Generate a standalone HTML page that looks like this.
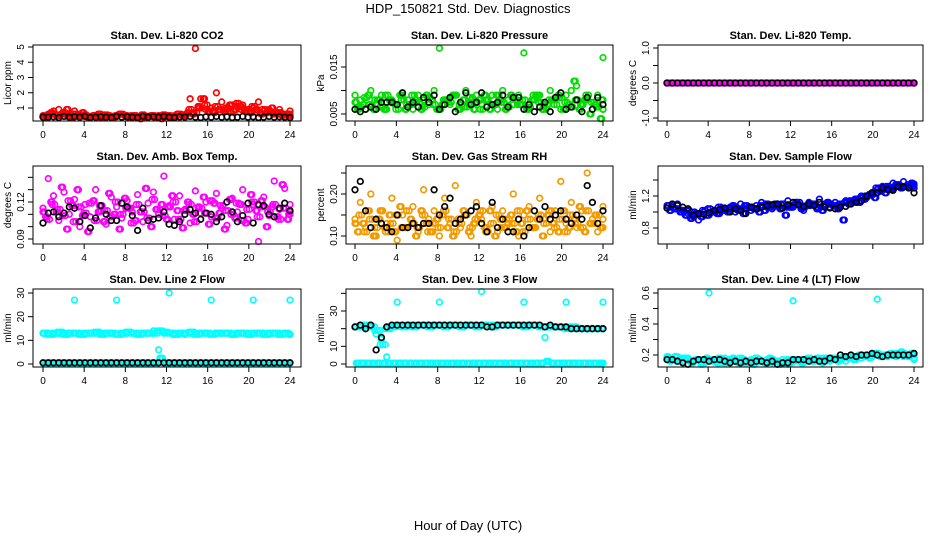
<!DOCTYPE html>
<html><head><meta charset="utf-8"><style>
body{margin:0;background:#fff}
svg{display:block;font-family:"Liberation Sans",Arial,sans-serif}
</style></head><body>
<svg id="c" width="936" height="540" viewBox="0 0 936 540">
<text x="468" y="13" text-anchor="middle" font-size="13">HDP_150821  Std. Dev. Diagnostics</text>
<text x="468" y="530" text-anchor="middle" font-size="13">Hour of Day (UTC)</text>
</svg>
<script>
// ---- data (values by half-hour index across 0–24 h) ----
const co2A=[0.5,0.6,0.8,0.9,0.6,0.5,0.8,0.6,0.5,0.4,0.5,0.6,0.5,0.45,0.5,0.4,0.5,0.45,0.4,0.5,0.4,0.45,0.5,0.4,0.45,0.5,0.4,0.5,1.6,4.9,1.6,0.9,1.0,2.0,1.4,0.9,1.2,1.1,1.2,0.9,1.0,1.4,0.8,0.9,0.7,0.9,0.6,0.8];
const co2B=[0.4,0.7,0.5,0.6,0.9,0.4,0.5,0.7,0.4,0.5,0.6,0.4,0.5,0.4,0.6,0.5,0.4,0.5,0.3,0.4,0.5,0.4,0.3,0.5,0.4,0.6,0.5,0.7,0.6,1.1,1.6,0.8,0.7,0.9,0.8,1.2,0.9,1.1,0.8,0.7,0.9,0.6,0.7,1.0,0.6,0.5,0.6,0.5];
const co2C=[0.45,0.55,0.6,0.5,0.7,0.45,0.6,0.5,0.55,0.45,0.5,0.4,0.55,0.45,0.5,0.6,0.45,0.5,0.4,0.55,0.45,0.5,0.45,0.55,0.5,0.45,0.6,0.55,0.9,0.7,1.0,1.2,0.8,1.1,0.9,1.0,0.8,1.3,0.9,0.8,1.1,0.7,0.9,0.8,0.6,0.7,0.55,0.6];
const co2K=[0.4,0.4,0.42,0.38,0.45,0.4,0.42,0.4,0.45,0.38,0.4,0.42,0.4,0.38,0.45,0.4,0.42,0.4,0.38,0.45,0.4,0.42,0.4,0.45,0.4,0.38,0.42,0.4,0.45,0.4,0.38,0.42,0.4,0.45,0.4,0.42,0.38,0.4,0.45,0.4,0.42,0.38,0.4,0.45,0.4,0.42,0.4,0.38];
const prA=[0.009,0.008,0.006,0.010,0.007,0.009,0.006,0.008,0.007,0.009,0.008,0.006,0.009,0.008,0.007,0.010,0.019,0.008,0.007,0.009,0.006,0.010,0.008,0.009,0.007,0.008,0.009,0.006,0.010,0.008,0.007,0.009,0.018,0.006,0.008,0.009,0.007,0.010,0.008,0.006,0.009,0.010,0.011,0.007,0.008,0.006,0.009,0.017];
const prB=[0.006,0.007,0.009,0.006,0.008,0.006,0.008,0.007,0.009,0.006,0.007,0.008,0.006,0.009,0.008,0.006,0.007,0.008,0.009,0.006,0.008,0.007,0.006,0.008,0.009,0.006,0.007,0.008,0.006,0.009,0.008,0.007,0.006,0.008,0.009,0.006,0.007,0.008,0.009,0.006,0.007,0.012,0.006,0.008,0.005,0.007,0.004,0.006];
const prC=[0.0075,0.0065,0.0085,0.0070,0.0080,0.0065,0.0090,0.0075,0.0060,0.0080,0.0070,0.0090,0.0075,0.0065,0.0085,0.0070,0.0060,0.0080,0.0075,0.0090,0.0070,0.0065,0.0085,0.0075,0.0060,0.0080,0.0070,0.0090,0.0075,0.0065,0.0085,0.0070,0.0080,0.0065,0.0090,0.0075,0.0060,0.0080,0.0070,0.0085,0.0075,0.0065,0.0080,0.0070,0.0090,0.0075,0.0065,0.0080];
const prK=[0.006,0.0055,0.006,0.0065,0.006,0.0075,0.0075,0.0075,0.007,0.0095,0.0065,0.0075,0.0065,0.0085,0.0075,0.009,0.006,0.007,0.0085,0.0055,0.0075,0.0095,0.007,0.0075,0.0095,0.0065,0.007,0.0075,0.009,0.0065,0.0085,0.0085,0.006,0.007,0.0055,0.0065,0.0075,0.0055,0.0085,0.0095,0.006,0.0065,0.008,0.0055,0.0085,0.006,0.0085,0.007];
const tpA=[0,0,0,0,0,0,0,0,0,0,0,0,0,0,0,0,0,0,0,0,0,0,0,0,0,0,0,0,0,0,0,0,0,0,0,0,0,0,0,0,0,0,0,0,0,0,0,0];
const tpK=[0,0,0,0,0,0,0,0,0,0,0,0,0,0,0,0,0,0,0,0,0,0,0,0,0,0,0,0,0,0,0,0,0,0,0,0,0,0,0,0,0,0,0,0,0,0,0,0];
const abA=[0.115,0.139,0.125,0.105,0.128,0.110,0.122,0.100,0.118,0.108,0.130,0.113,0.102,0.124,0.116,0.107,0.121,0.112,0.126,0.104,0.119,0.128,0.110,0.141,0.117,0.106,0.125,0.114,0.103,0.129,0.111,0.120,0.108,0.127,0.115,0.101,0.123,0.112,0.130,0.106,0.118,0.088,0.124,0.109,0.137,0.114,0.131,0.118];
const abB=[0.108,0.120,0.112,0.132,0.098,0.117,0.130,0.109,0.096,0.121,0.112,0.104,0.127,0.110,0.098,0.123,0.115,0.105,0.112,0.131,0.100,0.114,0.118,0.106,0.125,0.113,0.099,0.120,0.110,0.116,0.124,0.102,0.119,0.111,0.098,0.122,0.107,0.118,0.103,0.126,0.113,0.121,0.100,0.116,0.108,0.134,0.106,0.112];
const abC=[0.112,0.106,0.118,0.114,0.109,0.121,0.104,0.116,0.111,0.119,0.105,0.117,0.113,0.108,0.120,0.110,0.115,0.103,0.118,0.112,0.107,0.122,0.114,0.109,0.116,0.120,0.106,0.113,0.118,0.104,0.115,0.111,0.121,0.107,0.117,0.113,0.110,0.119,0.105,0.114,0.120,0.108,0.116,0.112,0.118,0.106,0.115,0.110];
const abK=[0.103,0.111,0.112,0.108,0.111,0.116,0.115,0.104,0.109,0.099,0.107,0.117,0.110,0.105,0.105,0.119,0.116,0.109,0.097,0.115,0.105,0.106,0.107,0.112,0.102,0.101,0.104,0.110,0.114,0.111,0.106,0.111,0.110,0.104,0.108,0.120,0.112,0.104,0.109,0.119,0.103,0.118,0.117,0.110,0.108,0.115,0.119,0.113];
const rhA=[0.14,0.18,0.12,0.20,0.10,0.16,0.13,0.19,0.09,0.15,0.12,0.17,0.11,0.21,0.14,0.16,0.10,0.19,0.13,0.22,0.12,0.15,0.10,0.18,0.14,0.12,0.17,0.11,0.16,0.13,0.20,0.10,0.15,0.17,0.12,0.19,0.14,0.11,0.16,0.23,0.13,0.18,0.12,0.16,0.25,0.14,0.11,0.17];
const rhB=[0.11,0.13,0.16,0.10,0.14,0.12,0.15,0.11,0.17,0.12,0.14,0.10,0.16,0.13,0.11,0.14,0.15,0.12,0.10,0.14,0.16,0.11,0.13,0.15,0.12,0.16,0.10,0.14,0.12,0.15,0.11,0.13,0.16,0.12,0.14,0.10,0.15,0.13,0.11,0.16,0.12,0.14,0.17,0.11,0.13,0.15,0.12,0.14];
const rhC=[0.13,0.15,0.11,0.14,0.12,0.16,0.11,0.13,0.15,0.12,0.16,0.13,0.12,0.15,0.11,0.13,0.12,0.16,0.14,0.11,0.13,0.15,0.12,0.14,0.16,0.11,0.13,0.15,0.12,0.14,0.13,0.16,0.11,0.14,0.12,0.15,0.13,0.16,0.12,0.14,0.11,0.15,0.13,0.12,0.16,0.13,0.15,0.12];
const rhK=[0.21,0.23,0.16,0.12,0.14,0.13,0.12,0.11,0.15,0.12,0.12,0.13,0.12,0.13,0.13,0.21,0.15,0.17,0.19,0.13,0.14,0.15,0.16,0.17,0.13,0.11,0.18,0.12,0.14,0.11,0.11,0.14,0.10,0.12,0.16,0.14,0.17,0.14,0.15,0.16,0.14,0.13,0.15,0.14,0.22,0.18,0.13,0.16];
const sfA=[1.05,1.08,1.10,1.02,0.98,0.94,0.90,1.00,0.96,1.02,0.98,1.04,1.06,1.00,1.10,1.04,1.02,1.08,1.12,1.06,1.04,1.10,1.08,1.14,1.06,1.10,1.02,1.12,1.08,1.16,1.10,1.06,1.12,1.08,1.14,1.10,1.16,1.20,1.18,1.24,1.28,1.32,1.30,1.36,1.34,1.38,1.32,1.35];
const sfB=[1.02,1.04,1.00,0.96,0.92,0.98,0.94,0.96,1.00,0.98,1.04,1.00,1.08,1.02,0.98,1.06,1.04,1.00,1.02,1.08,1.10,1.04,0.96,1.06,1.12,1.04,1.08,1.10,1.04,1.02,1.12,1.08,1.04,0.90,1.10,1.14,1.12,1.16,1.22,1.18,1.26,1.24,1.28,1.34,1.30,1.32,1.36,1.30];
const sfC=[1.08,1.06,1.04,1.00,1.02,1.00,0.98,1.02,1.04,1.00,1.06,1.02,1.04,1.06,1.04,1.08,1.06,1.04,1.08,1.10,1.06,1.08,1.10,1.06,1.08,1.12,1.06,1.08,1.10,1.06,1.08,1.10,1.08,1.10,1.12,1.14,1.16,1.18,1.20,1.22,1.30,1.28,1.32,1.30,1.34,1.32,1.34,1.33];
const sfK=[1.05,1.10,1.08,1.06,1.04,0.96,0.98,0.97,0.99,1.02,1.03,1.05,1.00,1.04,1.02,0.98,1.06,1.04,1.06,1.08,1.09,1.10,1.05,1.09,1.12,1.09,1.07,1.10,1.08,1.12,1.06,1.05,1.04,1.06,1.07,1.10,1.12,1.14,1.20,1.24,1.24,1.30,1.28,1.27,1.32,1.31,1.30,1.24];
const l2A=[13,13,12.5,13,13,13,27,13,12.5,13,13,13,13,13,27,12.5,13,13,13,13,13,14,6,13,30,13,13,12.5,13,13,13,13,27,13,13,13,12.5,13,13,13,27,13,13,12.5,13,13,13,27];
const l2C=[13,12.5,13,13.5,12.5,13,13,12.5,13,13,13.5,12.5,13,13,12.5,13,13.5,13,12.5,13,13,13,14,13.5,13,12.5,13,13,13.5,12.5,13,13,12.5,13,13,13,12.5,13,13,12.5,13,13,12.5,13,13,12.5,13,12.5];
const l2B=[0.5,0.5,0.5,0.5,0.5,0.5,0.5,0.5,0.5,0.5,0.5,0.5,0.5,0.5,0.5,0.5,0.5,0.5,0.5,0.5,0.5,0.5,2.5,0.5,0.5,0.5,0.5,0.5,0.5,0.5,0.5,0.5,0.5,0.5,0.5,0.5,0.5,0.5,0.5,0.5,0.5,0.5,0.5,0.5,0.5,0.5,0.5,0.5];
const l2K=[0.5,0.5,0.5,0.5,0.5,0.5,0.5,0.5,0.5,0.5,0.5,0.5,0.5,0.5,0.5,0.5,0.5,0.5,0.5,0.5,0.5,0.5,0.5,0.5,0.5,0.5,0.5,0.5,0.5,0.5,0.5,0.5,0.5,0.5,0.5,0.5,0.5,0.5,0.5,0.5,0.5,0.5,0.5,0.5,0.5,0.5,0.5,0.5];
const l3A=[21,22,20,22,17,14,4,22,35,22,22,22,22,22,22,22,35,22,22,22,22,22,22,22,41,22,22,22,22,22,22,22,35,22,22,22,15,21,21,21,35,21,21,20,20,20,20,35];
const l3C=[21,21,22,21,19,11,20,21,22,21,22,21,22,22,21,22,22,21,22,22,21,22,22,21,22,22,21,22,22,22,22,22,21,22,22,21,21,21,21,21,20,21,20,20,20,20,20,20];
const l3B=[0.5,0.5,0.5,0.5,0.5,0.5,0.5,0.5,0.5,0.5,0.5,0.5,0.5,0.5,0.5,0.5,0.5,0.5,0.5,0.5,0.5,0.5,0.5,0.5,0.5,0.5,0.5,0.5,0.5,0.5,0.5,0.5,0.5,0.5,0.5,0.5,1.5,0.5,0.5,0.5,0.5,0.5,0.5,0.5,0.5,0.5,0.5,0.5];
const l3K=[21,22,20,22,8,15,21,22,22,22,22,22,22,22,22,22,22,22,22,22,22,22,22,22,22,21,21,22,22,22,22,22,22,22,22,22,21,22,21,21,21,20,20,20,20,20,20,20];
const l4A=[0.18,0.17,0.19,0.16,0.18,0.15,0.17,0.16,0.60,0.17,0.15,0.18,0.16,0.17,0.15,0.16,0.17,0.15,0.16,0.17,0.15,0.16,0.17,0.14,0.55,0.16,0.15,0.17,0.16,0.18,0.17,0.16,0.17,0.18,0.16,0.19,0.17,0.18,0.20,0.19,0.56,0.20,0.19,0.21,0.20,0.19,0.20,0.17];
const l4B=[0.16,0.19,0.17,0.18,0.15,0.17,0.14,0.18,0.16,0.15,0.17,0.16,0.18,0.15,0.17,0.16,0.14,0.17,0.15,0.18,0.16,0.14,0.16,0.15,0.17,0.15,0.17,0.16,0.18,0.15,0.17,0.18,0.16,0.19,0.18,0.17,0.20,0.19,0.18,0.21,0.19,0.20,0.21,0.19,0.22,0.20,0.21,0.18];
const l4C=[0.19,0.17,0.16,0.18,0.17,0.16,0.17,0.15,0.17,0.16,0.18,0.15,0.17,0.16,0.18,0.15,0.16,0.18,0.16,0.15,0.17,0.16,0.15,0.17,0.16,0.17,0.16,0.18,0.17,0.16,0.18,0.17,0.18,0.17,0.19,0.18,0.19,0.20,0.19,0.20,0.21,0.19,0.20,0.20,0.21,0.21,0.19,0.20];
const l4K=[0.17,0.17,0.16,0.15,0.14,0.16,0.17,0.17,0.16,0.17,0.17,0.16,0.15,0.16,0.15,0.16,0.15,0.16,0.16,0.15,0.16,0.14,0.15,0.15,0.17,0.17,0.17,0.16,0.17,0.16,0.16,0.18,0.17,0.20,0.19,0.20,0.19,0.20,0.20,0.21,0.20,0.19,0.20,0.20,0.20,0.20,0.20,0.21];
const xTicks=[0,4,8,12,16,20,24];

const NS='http://www.w3.org/2000/svg';
const svg=document.getElementById('c');
function mk(tag,attrs,parent){const e=document.createElementNS(NS,tag);for(const k in attrs)e.setAttribute(k,attrs[k]);(parent||svg).appendChild(e);return e;}

const cols=[{l:33,r:301,x0:43,x1:290},{l:346,r:613,x0:355,x1:603},{l:658,r:923,x0:667,x1:914}];
const rows=[{t:45,b:121},{t:166,b:244},{t:289,b:367}];

function ser(a,b,c,k,col){return [[a,col,0],[b,col,0.25],[c,col,0.125],[b,col,0.375],[c,col,-0.125],[k,'#000',0]];}

const panels=[
 {c:0,r:0,name:'co2',title:'Stan. Dev. Li-820 CO2',ylab:'Licor ppm',v1:1,p1:108,v2:5,p2:47,ticks:[1,2,3,4,5],labs:['1','2','3','4','5'],xl:true,series:ser(co2A,co2B,co2C,co2K,'#ff0000')},
 {c:1,r:0,name:'pressure',title:'Stan. Dev. Li-820 Pressure',ylab:'kPa',v1:0.005,p1:114,v2:0.015,p2:67,ticks:[0.005,0.010,0.015],labs:['0.005','','0.015'],xl:true,series:ser(prA,prB,prC,prK,'#00dd00')},
 {c:2,r:0,name:'li820-temp',title:'Stan. Dev. Li-820 Temp.',ylab:'degrees C',v1:0,p1:83,v2:1,p2:48,ticks:[-1,-0.5,0,0.5,1],labs:['-1.0','','0.0','','1.0'],xl:true,series:ser(tpA,tpA,tpA,tpK,'#ff00ff')},
 {c:0,r:1,name:'amb-box-temp',title:'Stan. Dev. Amb. Box Temp.',ylab:'degrees C',v1:0.09,p1:239,v2:0.12,p2:202,ticks:[0.09,0.10,0.11,0.12,0.13,0.14],labs:['0.09','','','0.12','',''],xl:true,series:ser(abA,abB,abC,abK,'#ff00ff')},
 {c:1,r:1,name:'gas-stream-rh',title:'Stan. Dev. Gas Stream RH',ylab:'percent',v1:0.10,p1:236,v2:0.20,p2:194,ticks:[0.10,0.15,0.20,0.25],labs:['0.10','','0.20',''],xl:true,series:ser(rhA,rhB,rhC,rhK,'#f29a00')},
 {c:2,r:1,name:'sample-flow',title:'Stan. Dev. Sample Flow',ylab:'ml/min',v1:0.8,p1:228,v2:1.2,p2:196,ticks:[0.8,1.0,1.2,1.4],labs:['0.8','','1.2',''],xl:false,series:ser(sfA,sfB,sfC,sfK,'#0000ff')},
 {c:0,r:2,name:'line2-flow',title:'Stan. Dev. Line 2 Flow',ylab:'ml/min',v1:0,p1:364,v2:30,p2:293,ticks:[0,10,20,30],labs:['0','10','20','30'],xl:true,series:ser(l2A,l2B,l2C,l2K,'#00ffff').concat([[l2C,'#00ffff',0.375],[l2B,'#00ffff',0.125]]).sort((a,b)=>a[1]==='#000'?1:b[1]==='#000'?-1:0)},
 {c:1,r:2,name:'line3-flow',title:'Stan. Dev. Line 3 Flow',ylab:'ml/min',v1:0,p1:364,v2:30,p2:311,ticks:[0,10,20,30,40],labs:['0','10','','30',''],xl:true,series:ser(l3A,l3B,l3C,l3K,'#00ffff').concat([[l3C,'#00ffff',0.375],[l3B,'#00ffff',0.125]]).sort((a,b)=>a[1]==='#000'?1:b[1]==='#000'?-1:0)},
 {c:2,r:2,name:'line4-flow',title:'Stan. Dev. Line 4 (LT) Flow',ylab:'ml/min',v1:0.2,p1:355,v2:0.6,p2:293,ticks:[0.2,0.3,0.4,0.5,0.6],labs:['0.2','','0.4','','0.6'],xl:true,series:ser(l4A,l4B,l4C,l4K,'#00ffff')}
];

panels.forEach(p=>{
  const C=cols[p.c],R=rows[p.r];
  const g=mk('g',{});
  
  
  const xs=h=>C.x0+(C.x1-C.x0)*h/24;
  const ys=v=>p.p1+(p.p2-p.p1)*(v-p.v1)/(p.v2-p.v1);
  const t=mk('text',{x:(C.l+C.r)/2,y:R.t-6,'text-anchor':'middle','font-size':11,'font-weight':'bold'},g);
  t.textContent=p.title;
  
  
  const mg=mk('g',{fill:'none','stroke-width':1.7},g);
  p.series.forEach(s=>{
    const arr=s[0],n=arr.length;
    arr.forEach((v,i)=>{
      let h=i*24/(n-1)+s[2]; if(h>24)h=24; if(h<0)h=0;
      const el=mk('circle',{cx:xs(h).toFixed(1),cy:ys(v).toFixed(1),r:2.8,stroke:s[1]},mg);
      
      
    });
  });
  const box=mk('rect',{x:C.l,y:R.t,width:C.r-C.l,height:R.b-R.t,fill:'none',stroke:'#000','stroke-width':1},g);
  
  
  const ax=mk('g',{},g);
  
  
  mk('line',{x1:C.x0,x2:C.x1,y1:R.b,y2:R.b,stroke:'#000'},ax);
  xTicks.forEach(h=>{
    mk('line',{x1:xs(h),x2:xs(h),y1:R.b,y2:R.b+5,stroke:'#000'},ax);
    if(p.xl){const tl=mk('text',{x:xs(h),y:R.b+17,'text-anchor':'middle','font-size':10},ax);tl.textContent=h;}
  });
  const ay=mk('g',{},g);
  
  
  const ya=ys(p.ticks[0]),yb=ys(p.ticks[p.ticks.length-1]);
  mk('line',{x1:C.l,x2:C.l,y1:ya,y2:yb,stroke:'#000'},ay);
  p.ticks.forEach((v,i)=>{
    const y=ys(v);
    mk('line',{x1:C.l-5,x2:C.l,y1:y,y2:y,stroke:'#000'},ay);
    if(p.labs[i]){const tl=mk('text',{x:0,y:0,'text-anchor':'middle','font-size':10,transform:`translate(${C.l-9},${y}) rotate(-90)`},ay);tl.textContent=p.labs[i];}
  });
  const yt=mk('text',{x:0,y:0,'text-anchor':'middle','font-size':10,transform:`translate(${C.l-22},${(R.t+R.b)/2}) rotate(-90)`},g);
  yt.textContent=p.ylab;
  
  
});
</script>
</body></html>
